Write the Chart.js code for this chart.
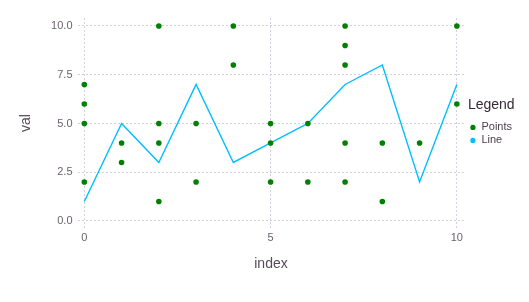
<!DOCTYPE html>
<html>
<head>
<meta charset="utf-8">
<script src="https://cdn.jsdelivr.net/npm/chart.js@4/dist/chart.umd.min.js"></script>
<style>
  html, body { margin: 0; padding: 0; background: #ffffff; }
  #wrap { width: 529px; height: 302px; }
</style>
</head>
<body>
<div id="wrap"><canvas id="c" width="529" height="302"></canvas></div>
<script>
// ---- data ----
const pointIndex = [0,0,0,0, 1,1, 2,2,2,2, 3,3, 4,4, 5,5,5, 6,6, 7,7,7,7,7, 8,8, 9, 10,10];
const pointVal   = [2,5,6,7, 3,4, 1,4,5,10, 2,5, 8,10, 2,4,5, 2,5, 2,4,8,9,10, 1,4, 4, 6,10];
const lineIndex  = [0,1,2,3,4,5,6,7,8,9,10];
const lineVal    = [1,5,3,7,3,4,5,7,8,2,7];
const xTicks = [0, 5, 10];
const yTicks = [0, 2.5, 5, 7.5, 10];
const seriesNames = ['Points', 'Line'];
const legendTitle = 'Legend';
const xTitle = 'index';
const yTitle = 'val';

const FONT = '"Liberation Sans", Arial, Helvetica, sans-serif';
const GREEN = '#008000';
const BLUE = '#00bfff';
const GRID = '#d0d0e0';

const pointsData = pointIndex.map((x, i) => ({x: x, y: pointVal[i]}));
const lineData = lineIndex.map((x, i) => ({x: x, y: lineVal[i]}));

// small gap between plot panel and legend box
const legendGap = {
  id: 'legendGap',
  afterLayout(chart) {
    const lg = chart.legend;
    if (lg) { lg.left += 4; lg.right += 4; }
  }
};

new Chart(document.getElementById('c'), {
  type: 'scatter',
  data: {
    datasets: [
      {
        label: seriesNames[0],
        data: pointsData,
        backgroundColor: GREEN,
        borderColor: GREEN,
        borderWidth: 0,
        pointRadius: 2.8,
        pointHoverRadius: 2.8,
        pointStyle: 'circle',
        showLine: false
      },
      {
        type: 'line',
        label: seriesNames[1],
        data: lineData,
        borderColor: BLUE,
        backgroundColor: BLUE,
        borderWidth: 1.4,
        pointRadius: 0,
        pointStyle: 'circle',
        tension: 0,
        fill: false
      }
    ]
  },
  plugins: [legendGap],
  options: {
    responsive: false,
    animation: false,
    devicePixelRatio: 1,
    layout: { padding: { top: 18, right: 11, bottom: 0, left: 0 } },
    plugins: {
      tooltip: { enabled: false },
      legend: {
        position: 'right',
        align: 'center',
        fullSize: false,
        title: {
          display: true,
          text: legendTitle,
          position: 'start',
          color: '#362a35',
          font: { family: FONT, size: 14 },
          padding: { top: 0, bottom: 5 }
        },
        labels: {
          usePointStyle: true,
          boxWidth: 6,
          boxHeight: 3.7,
          padding: 2,
          color: '#4c404b',
          font: { family: FONT, size: 11 },
          generateLabels: (chart) => {
            const items = Chart.defaults.plugins.legend.labels.generateLabels(chart);
            items.forEach(it => { it.lineWidth = 0; });
            return items;
          }
        }
      }
    },
    scales: {
      x: {
        type: 'linear',
        min: -0.17,
        max: 10.19,
        afterBuildTicks: (s) => { s.ticks = xTicks.map(v => ({value: v})); },
        afterFit: (s) => { s.height = 74; },
        border: { display: false, dash: [2, 2] },
        grid: { color: GRID, lineWidth: 1, drawTicks: false },
        ticks: {
          padding: 3,
          color: '#6c606b',
          font: { family: FONT, size: 11 },
          maxRotation: 0,
          callback: (v) => String(v)
        },
        title: {
          display: true,
          text: xTitle,
          color: '#564a55',
          font: { family: FONT, size: 14 },
          padding: { top: 0, bottom: 29.6 }
        }
      },
      y: {
        type: 'linear',
        min: -0.36,
        max: 10.41,
        afterBuildTicks: (s) => { s.ticks = yTicks.map(v => ({value: v})); },
        afterFit: (s) => { s.width = 78; },
        border: { display: false, dash: [2, 2] },
        grid: { color: GRID, lineWidth: 1, drawTicks: false },
        ticks: {
          padding: 5.5,
          color: '#6c606b',
          font: { family: FONT, size: 11 },
          callback: (v) => Number(v).toFixed(1)
        },
        title: {
          display: true,
          text: yTitle,
          color: '#564a55',
          font: { family: FONT, size: 14 },
          padding: { top: 17.4, bottom: 0 }
        }
      }
    }
  }
});
</script>
</body>
</html>
